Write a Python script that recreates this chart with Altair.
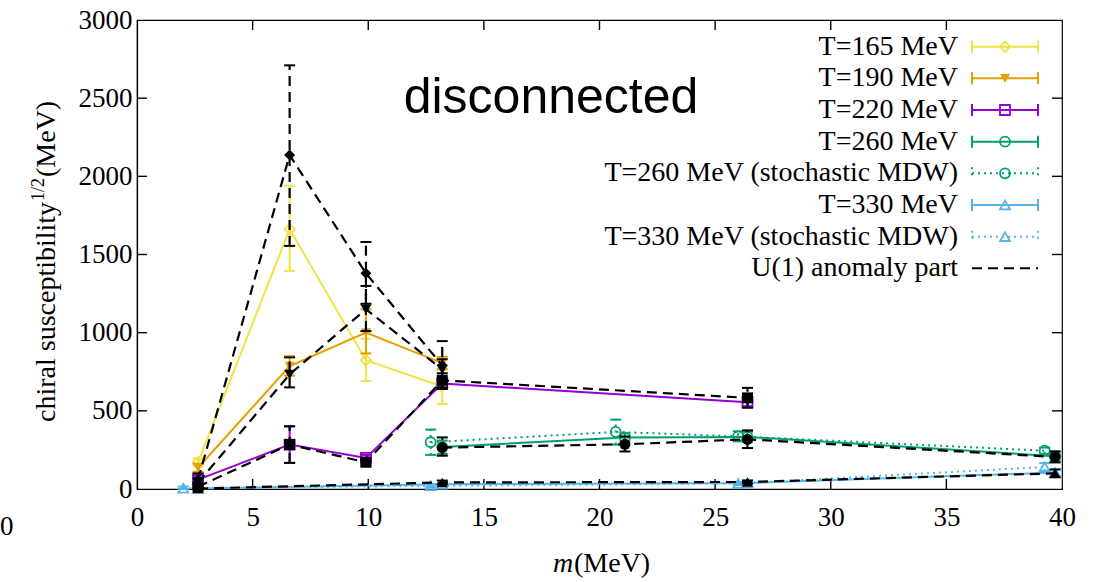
import altair as alt
import pandas as pd

# ---------------- data ----------------
x_tick_values = [0, 5, 10, 15, 20, 25, 30, 35, 40]
y_tick_values = [0, 500, 1000, 1500, 2000, 2500, 3000]
inner_x_ticks = [5, 10, 15, 20, 25, 30, 35]
inner_y_ticks = [500, 1000, 1500, 2000, 2500]

# T=165 MeV
m165 = [2.64, 6.6, 9.9, 13.2]
y165 = [170, 1662, 824, 656]
lo165 = [145, 1395, 690, 544]
hi165 = [195, 1940, 961, 770]
# T=190 MeV
m190 = [2.64, 6.6, 9.9, 13.2]
y190 = [136, 786, 1000, 805]
lo190 = [110, 725, 867, 765]
hi190 = [162, 850, 1149, 845]
# T=220 MeV
m220 = [2.64, 6.6, 9.9, 13.2, 26.4]
y220 = [60, 284, 199, 675, 555]
lo220 = [35, 167, 180, 640, 530]
hi220 = [85, 401, 218, 710, 580]
# T=260 MeV
m260 = [13.2, 21.1, 26.4, 39.7]
y260 = [268, 330, 333, 210]
lo260 = [225, 305, 300, 180]
hi260 = [310, 355, 366, 240]
# T=260 MeV (stochastic MDW)
m260s = [12.7, 20.7, 26.0, 39.25]
y260s = [299, 365, 337, 245]
lo260s = [218, 284, 305, 225]
hi260s = [380, 444, 369, 265]
# T=330 MeV
m330 = [2.64, 13.2, 26.4, 39.7]
y330 = [3, 30, 38, 105]
lo330 = [0, 22, 30, 85]
hi330 = [8, 38, 46, 125]
# T=330 MeV (stochastic MDW)
m330s = [2.0, 12.7, 26.0, 39.25]
y330s = [5, 20, 35, 141]
lo330s = [0, 10, 25, 116]
hi330s = [15, 30, 45, 166]
# U(1) anomaly part (black, dashed)
a165 = [60, 2136, 1380, 790]
alo165 = [20, 1555, 1185, 640]
ahi165 = [100, 2710, 1580, 946]
a190 = [40, 733, 1150, 765]
alo190 = [10, 650, 1010, 700]
ahi190 = [70, 842, 1299, 830]
a220 = [15, 284, 171, 695, 583]
alo220 = [0, 167, 150, 650, 520]
ahi220 = [30, 401, 192, 740, 647]
a260 = [265, 286, 318, 205]
alo260 = [213, 240, 262, 170]
ahi260 = [330, 336, 375, 240]
a330 = [3, 42, 45, 100]
alo330 = [0, 30, 35, 75]
ahi330 = [6, 54, 55, 125]

YEL, ORA, PUR, GRN, BLU, BLK = "#f0e442", "#e69f00", "#9400d3", "#009e73", "#56b4e9", "#000000"
DASH = [10, 6]
DOT = [2, 4]
SERIF = "Liberation Serif"

series = [
    dict(name="T=165 MeV", m=m165, y=y165, lo=lo165, hi=hi165, color=YEL, shape="diamond", filled=False, dash=None, size=110),
    dict(name="T=190 MeV", m=m190, y=y190, lo=lo190, hi=hi190, color=ORA, shape="triangle-down", filled=True, dash=None, size=100),
    dict(name="T=220 MeV", m=m220, y=y220, lo=lo220, hi=hi220, color=PUR, shape="square", filled=False, dash=None, size=100),
    dict(name="T=260 MeV", m=m260, y=y260, lo=lo260, hi=hi260, color=GRN, shape="circle", filled=False, dash=None, size=100),
    dict(name="T=260 MeV (stochastic MDW)", m=m260s, y=y260s, lo=lo260s, hi=hi260s, color=GRN, shape="circle", filled=False, dash=DOT, size=100),
    dict(name="T=330 MeV", m=m330, y=y330, lo=lo330, hi=hi330, color=BLU, shape="triangle-up", filled=False, dash=None, size=100),
    dict(name="T=330 MeV (stochastic MDW)", m=m330s, y=y330s, lo=lo330s, hi=hi330s, color=BLU, shape="triangle-up", filled=False, dash=DOT, size=100),
]
anomaly = [
    dict(m=m165, y=a165, lo=alo165, hi=ahi165, shape="diamond"),
    dict(m=m190, y=a190, lo=alo190, hi=ahi190, shape="triangle-down"),
    dict(m=m220, y=a220, lo=alo220, hi=ahi220, shape="square"),
    dict(m=m260, y=a260, lo=alo260, hi=ahi260, shape="circle"),
    dict(m=m330, y=a330, lo=alo330, hi=ahi330, shape="triangle-up"),
]

XS = alt.Scale(domain=[0, 40], nice=False, zero=False)
YS = alt.Scale(domain=[0, 3000], nice=False, zero=False)
X_AXIS = alt.Axis(values=x_tick_values, format="d", ticks=False, grid=False, labelFont=SERIF, labelFontSize=27,
                  labelPadding=15, labelColor="black", domainColor="black", domainWidth=1.2,
                  labelFlush=False, labelOverlap=False, title=None)
Y_AXIS = alt.Axis(values=y_tick_values, format="d", ticks=False, grid=False, labelFont=SERIF, labelFontSize=27,
                  labelPadding=5, labelColor="black", domainColor="black", domainWidth=1.2,
                  labelFlush=False, labelOverlap=False, title=None)


def X(f="m"):
    return alt.X(f"{f}:Q", scale=XS, axis=X_AXIS, title=None)


def Y(f="y"):
    return alt.Y(f"{f}:Q", scale=YS, axis=Y_AXIS, title=None)


def data_layers(m, y, lo, hi, color, shape, filled, dash, size, lw=2):
    df = pd.DataFrame({"m": m, "y": y, "lo": lo, "hi": hi})
    base = alt.Chart(df)
    kw = dict(color=color, strokeWidth=lw)
    if dash:
        kw["strokeDash"] = dash
    out = [
        base.mark_line(**kw).encode(x=X(), y=Y()),
        base.mark_rule(**kw).encode(x=X(), y=Y("lo"), y2="hi:Q"),
        base.mark_tick(orient="horizontal", color=color, thickness=2, size=11, opacity=1).encode(x=X(), y=Y("lo")),
        base.mark_tick(orient="horizontal", color=color, thickness=2, size=11, opacity=1).encode(x=X(), y=Y("hi")),
    ]
    pkw = dict(shape=shape, filled=filled, size=size, color=color, opacity=1, strokeWidth=1.8)
    out.append(base.mark_point(**pkw).encode(x=X(), y=Y()))
    return out


layers = []

# inward, mirrored ticks drawn as rules through the scales
tick_kw = dict(color="black", strokeWidth=1.4)
bx = pd.DataFrame({"m": inner_x_ticks, "a": [0] * len(inner_x_ticks), "b": [64] * len(inner_x_ticks)})
tx = pd.DataFrame({"m": inner_x_ticks, "a": [3000] * len(inner_x_ticks), "b": [2936] * len(inner_x_ticks)})
ly = pd.DataFrame({"y": inner_y_ticks, "a": [0] * len(inner_y_ticks), "b": [0.43] * len(inner_y_ticks)})
ry_ = pd.DataFrame({"y": inner_y_ticks, "a": [40] * len(inner_y_ticks), "b": [39.57] * len(inner_y_ticks)})
layers += [
    alt.Chart(bx).mark_rule(**tick_kw).encode(x=X(), y=Y("a"), y2="b:Q"),
    alt.Chart(tx).mark_rule(**tick_kw).encode(x=X(), y=Y("a"), y2="b:Q"),
    alt.Chart(ly).mark_rule(**tick_kw).encode(y=Y(), x=X("a"), x2="b:Q"),
    alt.Chart(ry_).mark_rule(**tick_kw).encode(y=Y(), x=X("a"), x2="b:Q"),
]

for s in series:
    layers += data_layers(s["m"], s["y"], s["lo"], s["hi"], s["color"], s["shape"], s["filled"], s["dash"], s["size"])
for a in anomaly:
    layers += data_layers(a["m"], a["y"], a["lo"], a["hi"], BLK, a["shape"], True, DASH, 120, lw=2.2)

# ---------------- texts ----------------
one = pd.DataFrame({"k": [0]})


def txt(text, x, y, size=28, font=SERIF, align="left", baseline="alphabetic", angle=0, style="normal"):
    kw = dict(text=text, font=font, fontSize=size, align=align, baseline=baseline, color="black", fontStyle=style)
    if angle:
        kw["angle"] = angle
    return alt.Chart(one).mark_text(**kw).encode(x=alt.value(x), y=alt.value(y))


layers += [
    txt("disconnected", 414, 93, size=50, font="Liberation Sans", align="center"),
    txt("chiral susceptibility", -82, 402, angle=270),
    txt("1/2", -93, 181, size=18, angle=270),
    txt("(MeV)", -82, 157, angle=270),
    txt("m", 416, 552, style="italic"),
    txt("(MeV)", 437, 552),
    txt("0", -137, 515, size=27),
]

# ---------------- legend (gnuplot style: text then sample) ----------------
TX, LX1, LX2, MX = 821, 835, 901, 868
for i, s in enumerate(series):
    ry = 26.7 + i * 31.66
    kw = dict(color=s["color"], strokeWidth=2)
    if s["dash"]:
        kw["strokeDash"] = s["dash"]
    layers += [
        txt(s["name"], TX, ry, align="right", baseline="middle"),
        alt.Chart(one).mark_rule(**kw).encode(x=alt.value(LX1), x2=alt.value(LX2), y=alt.value(ry)),
        alt.Chart(one).mark_rule(**kw).encode(x=alt.value(LX1), y=alt.value(ry - 6), y2=alt.value(ry + 6)),
        alt.Chart(one).mark_rule(**kw).encode(x=alt.value(LX2), y=alt.value(ry - 6), y2=alt.value(ry + 6)),
        alt.Chart(one).mark_point(shape=s["shape"], filled=s["filled"], size=s["size"], color=s["color"],
                                  opacity=1, strokeWidth=1.8).encode(x=alt.value(MX), y=alt.value(ry)),
    ]
ry = 26.7 + 7 * 31.66
layers += [
    txt("U(1) anomaly part", TX, ry, align="right", baseline="middle"),
    alt.Chart(one).mark_rule(color=BLK, strokeWidth=2, strokeDash=DASH).encode(
        x=alt.value(LX1), x2=alt.value(LX2), y=alt.value(ry)),
]

chart = alt.layer(*layers).properties(
    width=925, height=469,
    padding={"left": 137, "top": 20, "right": 44, "bottom": 93},
    autosize=alt.AutoSizeParams(type="none"),
    background="white",
).configure_view(stroke="black", strokeWidth=1.2)

chart.save("out.html", embed_options={"renderer": "svg", "actions": False})
